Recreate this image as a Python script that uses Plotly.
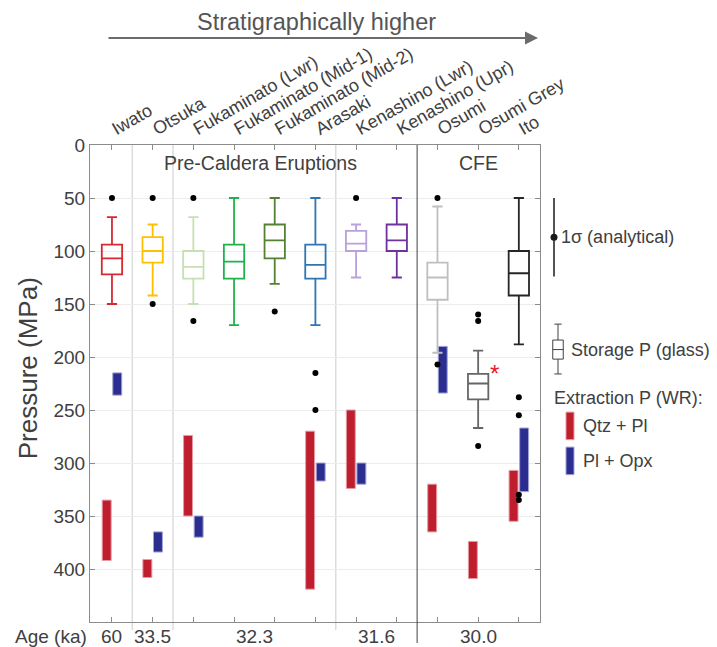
import plotly.graph_objects as go

# ---- data -------------------------------------------------------------
units = ["Iwato", "Otsuka", "Fukaminato (Lwr)", "Fukaminato (Mid-1)",
         "Fukaminato (Mid-2)", "Arasaki", "Kenashino (Lwr)", "Kenashino (Upr)",
         "Osumi", "Osumi Grey", "Ito"]
unit_pos = list(range(1, len(units) + 1))

# glass storage pressure box statistics (MPa)
q1 = [94, 87, 100, 94, 75, 94, 81, 75, 111, 216, 100]
median = [107, 100, 115, 110, 90, 113, 93, 90, 125, 225, 121]
q3 = [122, 111, 126, 126, 107, 126, 100, 100, 146, 240, 142]
whisker_low = [68, 75, 68, 50, 50, 50, 75, 50, 58, 194, 50]
whisker_high = [150, 142, 150, 170, 131, 170, 125, 125, 196, 267, 188]
box_colors = ["#d62a32", "#ffc000", "#c5e0b4", "#1fb24c", "#548235", "#2e75b6",
              "#b9a1db", "#7030a0", "#bfbfbf", "#666666", "#262626"]

# outliers (unit position, MPa)
outlier_pos = [1, 2, 2, 3, 3, 5, 6, 6, 7, 9, 9, 10, 10, 10, 11, 11, 11, 11]
outlier_p = [50, 50, 150, 50, 166, 157, 215, 250, 50, 50, 207, 160, 166, 284,
             238, 255, 330, 335]

# whole-rock extraction pressure ranges (MPa)
qtz_pl_pos = [1, 2, 3, 6, 7, 9, 10, 11]
qtz_pl_top = [335, 391, 274, 270, 250, 320, 374, 307]
qtz_pl_bottom = [392, 408, 350, 419, 324, 365, 409, 355]

pl_opx_pos = [1, 2, 3, 6, 7, 9, 11]
pl_opx_top = [215, 365, 350, 300, 300, 190, 267]
pl_opx_bottom = [236, 384, 370, 317, 320, 234, 327]

# age groups
age_labels = ["60", "33.5", "32.3", "31.6", "30.0"]
age_centers = [1, 2, 4.5, 7.5, 10]
group_breaks = [1.5, 2.5, 6.5]
cfe_break = 8.5

# analytical uncertainty and key box
sigma_center, sigma_half = 87, 37
key_box = dict(q1=184, median=193, q3=202, low=169, high=216)

RED = "#be1e2d"
BLUE = "#2b2e8f"
TEXT = "#404040"
FRAME = "#8c8c8c"
FONT = "Liberation Sans, Arial, sans-serif"

fig = go.Figure()

# extraction pressure bars
fig.add_trace(go.Bar(
    x=[p - 0.13 for p in qtz_pl_pos],
    base=qtz_pl_top,
    y=[b - t for t, b in zip(qtz_pl_top, qtz_pl_bottom)],
    width=0.22, marker=dict(color=RED, line=dict(color="#e79aa3", width=1)),
    hoverinfo="skip"))
fig.add_trace(go.Bar(
    x=[p + 0.13 for p in pl_opx_pos],
    base=pl_opx_top,
    y=[b - t for t, b in zip(pl_opx_top, pl_opx_bottom)],
    width=0.22, marker=dict(color=BLUE, line=dict(color="#a2a4d6", width=1)),
    hoverinfo="skip"))

# storage pressure boxes
for i, pos in enumerate(unit_pos):
    fig.add_trace(go.Box(
        x=[pos], q1=[q1[i]], median=[median[i]], q3=[q3[i]],
        lowerfence=[whisker_low[i]], upperfence=[whisker_high[i]],
        width=0.5, whiskerwidth=0.5, boxpoints=False,
        line=dict(color=box_colors[i], width=1.8),
        fillcolor="rgba(0,0,0,0)", hoverinfo="skip"))

fig.add_trace(go.Scatter(
    x=outlier_pos, y=outlier_p, mode="markers",
    marker=dict(color="black", size=6), hoverinfo="skip"))

# ---- key panel (right) --------------------------------------------------
fig.add_trace(go.Scatter(
    x=[14], y=[sigma_center], mode="markers", xaxis="x2", yaxis="y2",
    marker=dict(color="#1a1a1a", size=7),
    error_y=dict(type="data", array=[sigma_half], width=0, thickness=1.5,
                 color="#1a1a1a"),
    hoverinfo="skip"))
fig.add_trace(go.Box(
    x=[18], q1=[key_box["q1"]], median=[key_box["median"]], q3=[key_box["q3"]],
    lowerfence=[key_box["low"]], upperfence=[key_box["high"]],
    width=10.5, whiskerwidth=0.7, boxpoints=False, xaxis="x2", yaxis="y2",
    line=dict(color="#404040", width=1), fillcolor="rgba(0,0,0,0)",
    hoverinfo="skip"))
fig.add_trace(go.Bar(
    x=[30, 30], base=[252, 285], y=[26, 26], width=8,
    marker=dict(color=[RED, BLUE], line=dict(color=["#e79aa3", "#a2a4d6"], width=1)),
    xaxis="x2", yaxis="y2", hoverinfo="skip"))

key_text = [
    (19, sigma_center, "1σ (analytical)"),
    (29, 193, "Storage P (glass)"),
    (12, 239, "Extraction P (WR):"),
    (41, 265, "Qtz + Pl"),
    (41, 298, "Pl + Opx"),
]
annotations = []
for x, y, t in key_text:
    annotations.append(dict(x=x, y=y, xref="x2", yref="y2", text=t,
                            showarrow=False, xanchor="left", yanchor="middle",
                            font=dict(size=18, color=TEXT)))

# ---- labels ---------------------------------------------------------------
annotations += [
    dict(x=4.64, y=17, xref="x", yref="y", text="Pre-Caldera Eruptions",
         showarrow=False, font=dict(size=19.5, color=TEXT)),
    dict(x=10.02, y=17, xref="x", yref="y", text="CFE",
         showarrow=False, font=dict(size=19.5, color=TEXT)),
    dict(x=10.39, y=216, xref="x", yref="y", text="*", showarrow=False,
         font=dict(size=24, color="#e8192c")),
    dict(x=-0.0989, y=0.532, xref="paper", yref="paper", text="Pressure (MPa)",
         textangle=-90, showarrow=False, xanchor="center", yanchor="middle",
         font=dict(size=26, color=TEXT)),
    dict(x=-0.1228, y=-0.0294, xref="paper", yref="paper", text="Age (ka)",
         showarrow=False, xanchor="left", yanchor="middle",
         font=dict(size=19, color=TEXT)),
    dict(x=0.7145, y=1.2243, xref="paper", yref="paper", text="",
         showarrow=True, ax=-431, ay=0, arrowhead=2, arrowsize=1.3,
         arrowwidth=2, arrowcolor="#6b6b6b"),
    dict(x=0.362, y=1.258, xref="paper", yref="paper",
         text="Stratigraphically higher", showarrow=False,
         xanchor="center", yanchor="middle",
         font=dict(size=23.5, color="#555555")),
]
for c, t in zip(age_centers, age_labels):
    annotations.append(dict(x=c, y=-0.0294, xref="x", yref="paper", text=t,
                            showarrow=False, yanchor="middle",
                            font=dict(size=19, color=TEXT)))

shapes = []
for b in group_breaks:
    shapes.append(dict(type="line", xref="x", yref="paper", x0=b, x1=b,
                       y0=-0.017, y1=1, line=dict(color="#dcdcdc", width=1.5),
                       layer="below"))
shapes.append(dict(type="line", xref="x", yref="paper", x0=cfe_break,
                   x1=cfe_break, y0=-0.044, y1=1,
                   line=dict(color="#404040", width=1)))

main_w = 450 / 627
fig.update_layout(
    width=717, height=647,
    margin=dict(l=90, r=0, t=145, b=25, autoexpand=False),
    plot_bgcolor="white", paper_bgcolor="white",
    showlegend=False, barmode="overlay",
    font=dict(family=FONT, size=18, color=TEXT),
    annotations=annotations, shapes=shapes,
    xaxis=dict(domain=[0, main_w], range=[0.46, 11.52], automargin=False,
               tickmode="array", tickvals=unit_pos, ticktext=units,
               side="top", tickangle=-30, ticks="inside", ticklen=5,
               tickcolor=FRAME, showline=True, linecolor=FRAME, linewidth=1.2,
               mirror="ticks", showgrid=False, zeroline=False,
               tickfont=dict(size=18, color=TEXT)),
    yaxis=dict(range=[450, 0], tickmode="array", automargin=False,
               tickvals=list(range(0, 401, 50)), ticks="inside", ticklen=5,
               tickcolor=FRAME, showline=True, linecolor=FRAME, linewidth=1.2,
               mirror="ticks", showgrid=True, gridcolor="#ececec",
               zeroline=False, tickfont=dict(size=19, color=TEXT)),
    xaxis2=dict(domain=[main_w, 1], range=[0, 177], visible=False,
                anchor="y2", automargin=False),
    yaxis2=dict(range=[450, 0], anchor="x2", visible=False, automargin=False),
)

fig.write_html("out.html")
